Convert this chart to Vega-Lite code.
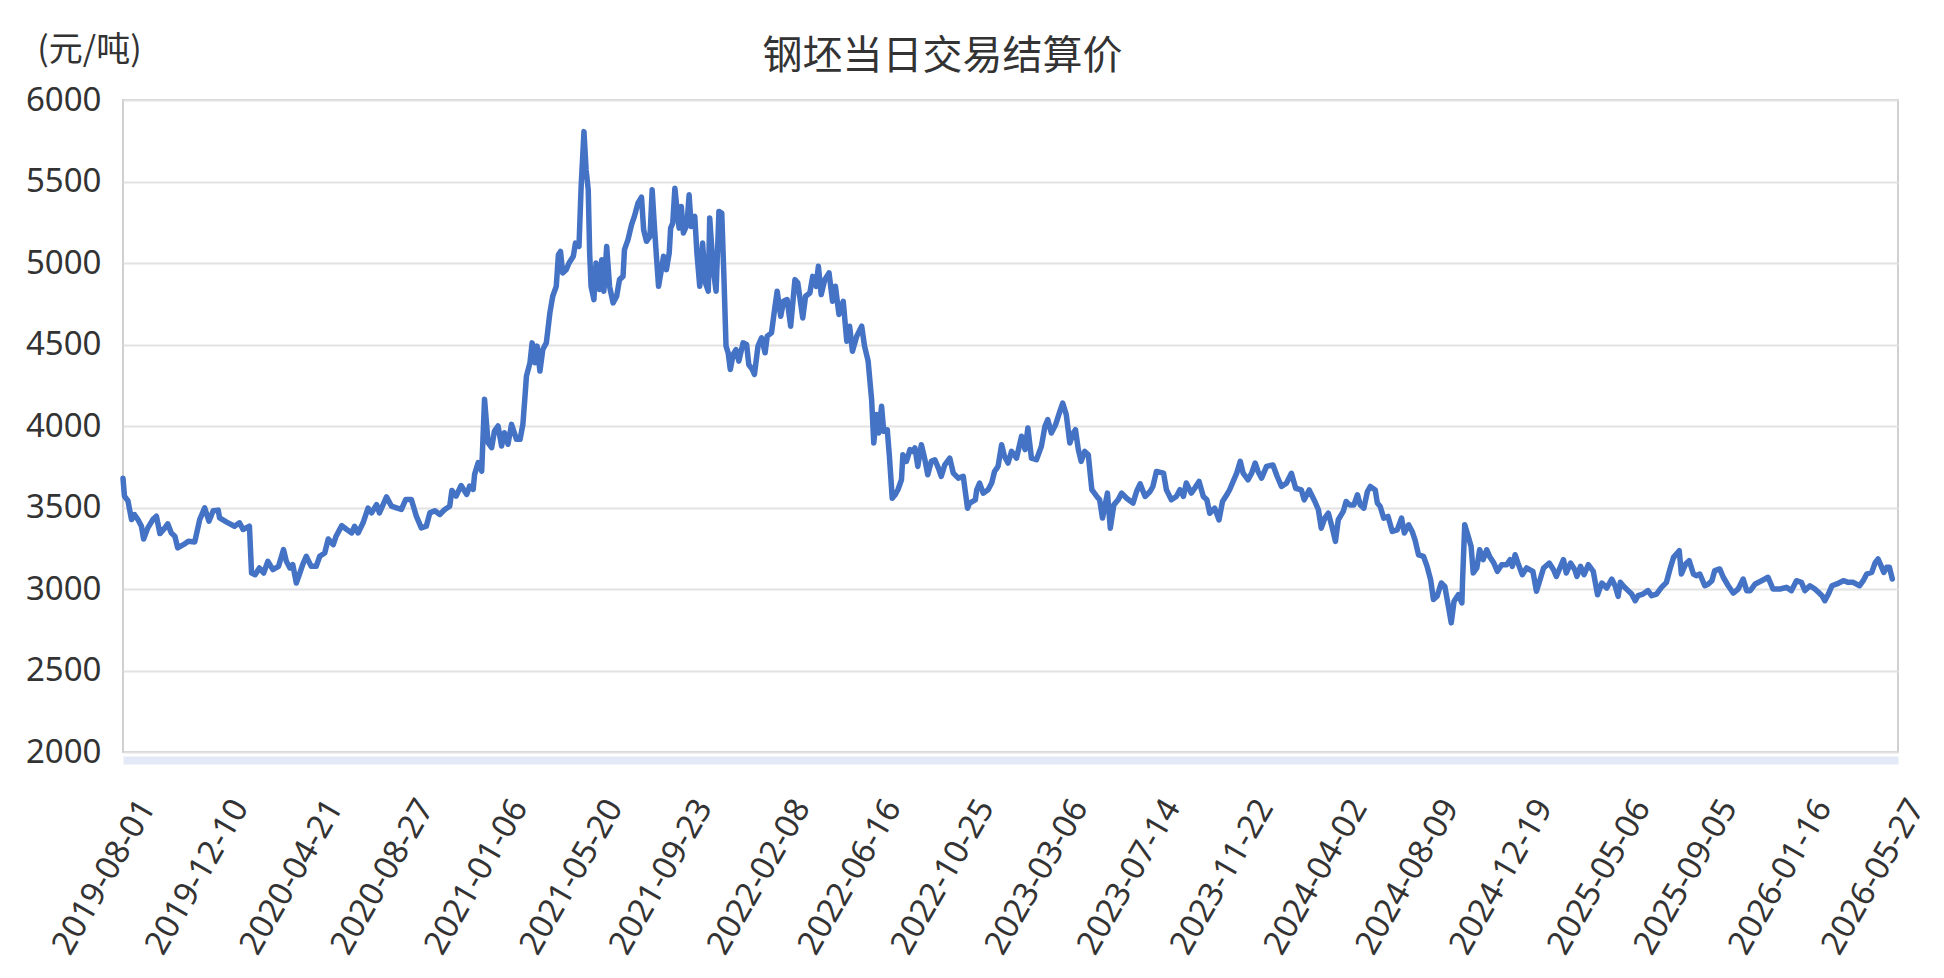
{
  "$schema": "https://vega.github.io/schema/vega-lite/v6.json",
  "width": 1775,
  "height": 652,
  "autosize": {"type": "none"},
  "padding": {"left": 123, "top": 100, "right": 46, "bottom": 226},
  "background": "white",
  "title": {
    "text": "钢坯当日交易结算价",
    "font": "Noto Sans CJK SC",
    "fontSize": 40,
    "fontWeight": "normal",
    "color": "#333333",
    "anchor": "middle",
    "dx": -68,
    "dy": 70,
    "offset": 26
  },
  "data": {
    "values": [
      {"date": "2019-08-01", "price": 3680}, {"date": "2019-08-03", "price": 3570}, {"date": "2019-08-08", "price": 3540},
      {"date": "2019-08-13", "price": 3426}, {"date": "2019-08-17", "price": 3457}, {"date": "2019-08-22", "price": 3426},
      {"date": "2019-08-27", "price": 3385}, {"date": "2019-08-30", "price": 3307}, {"date": "2019-09-05", "price": 3375},
      {"date": "2019-09-12", "price": 3426}, {"date": "2019-09-17", "price": 3447}, {"date": "2019-09-22", "price": 3340},
      {"date": "2019-09-29", "price": 3375}, {"date": "2019-10-03", "price": 3400}, {"date": "2019-10-08", "price": 3344},
      {"date": "2019-10-13", "price": 3324}, {"date": "2019-10-17", "price": 3252}, {"date": "2019-10-25", "price": 3272},
      {"date": "2019-11-01", "price": 3293}, {"date": "2019-11-10", "price": 3289}, {"date": "2019-11-17", "price": 3426},
      {"date": "2019-11-24", "price": 3498}, {"date": "2019-11-30", "price": 3416}, {"date": "2019-12-06", "price": 3480},
      {"date": "2019-12-13", "price": 3484}, {"date": "2019-12-15", "price": 3436}, {"date": "2019-12-25", "price": 3410},
      {"date": "2020-01-05", "price": 3385}, {"date": "2020-01-12", "price": 3406}, {"date": "2020-01-17", "price": 3365},
      {"date": "2020-01-26", "price": 3385}, {"date": "2020-01-29", "price": 3098}, {"date": "2020-02-03", "price": 3088},
      {"date": "2020-02-09", "price": 3129}, {"date": "2020-02-15", "price": 3098}, {"date": "2020-02-21", "price": 3170},
      {"date": "2020-02-28", "price": 3119}, {"date": "2020-03-07", "price": 3139}, {"date": "2020-03-14", "price": 3242},
      {"date": "2020-03-18", "price": 3170}, {"date": "2020-03-23", "price": 3129}, {"date": "2020-03-27", "price": 3150},
      {"date": "2020-04-01", "price": 3037}, {"date": "2020-04-06", "price": 3098}, {"date": "2020-04-10", "price": 3150},
      {"date": "2020-04-15", "price": 3201}, {"date": "2020-04-22", "price": 3139}, {"date": "2020-04-29", "price": 3139},
      {"date": "2020-05-04", "price": 3201}, {"date": "2020-05-11", "price": 3221}, {"date": "2020-05-16", "price": 3307},
      {"date": "2020-05-23", "price": 3272}, {"date": "2020-05-27", "price": 3324}, {"date": "2020-06-04", "price": 3389},
      {"date": "2020-06-11", "price": 3365}, {"date": "2020-06-18", "price": 3344}, {"date": "2020-06-22", "price": 3385},
      {"date": "2020-06-27", "price": 3344}, {"date": "2020-07-04", "price": 3406}, {"date": "2020-07-11", "price": 3496},
      {"date": "2020-07-16", "price": 3467}, {"date": "2020-07-23", "price": 3518}, {"date": "2020-07-27", "price": 3467},
      {"date": "2020-08-06", "price": 3565}, {"date": "2020-08-13", "price": 3508}, {"date": "2020-08-20", "price": 3498},
      {"date": "2020-08-27", "price": 3488}, {"date": "2020-09-02", "price": 3549}, {"date": "2020-09-10", "price": 3549},
      {"date": "2020-09-17", "price": 3447}, {"date": "2020-09-24", "price": 3375}, {"date": "2020-10-01", "price": 3385},
      {"date": "2020-10-06", "price": 3467}, {"date": "2020-10-13", "price": 3480}, {"date": "2020-10-20", "price": 3457},
      {"date": "2020-10-27", "price": 3488}, {"date": "2020-11-03", "price": 3508}, {"date": "2020-11-06", "price": 3604},
      {"date": "2020-11-12", "price": 3570}, {"date": "2020-11-19", "price": 3635}, {"date": "2020-11-27", "price": 3580},
      {"date": "2020-12-01", "price": 3631}, {"date": "2020-12-06", "price": 3611}, {"date": "2020-12-08", "price": 3703},
      {"date": "2020-12-13", "price": 3775}, {"date": "2020-12-18", "price": 3723}, {"date": "2020-12-22", "price": 4164},
      {"date": "2020-12-27", "price": 3898}, {"date": "2021-01-01", "price": 3867}, {"date": "2021-01-05", "price": 3969},
      {"date": "2021-01-10", "price": 4000}, {"date": "2021-01-15", "price": 3877}, {"date": "2021-01-19", "price": 3959},
      {"date": "2021-01-24", "price": 3888}, {"date": "2021-01-29", "price": 4010}, {"date": "2021-02-05", "price": 3918},
      {"date": "2021-02-10", "price": 3918}, {"date": "2021-02-14", "price": 4010}, {"date": "2021-02-17", "price": 4184},
      {"date": "2021-02-19", "price": 4306}, {"date": "2021-02-24", "price": 4388}, {"date": "2021-02-27", "price": 4510},
      {"date": "2021-03-03", "price": 4388}, {"date": "2021-03-06", "price": 4490}, {"date": "2021-03-10", "price": 4337},
      {"date": "2021-03-14", "price": 4469}, {"date": "2021-03-19", "price": 4510}, {"date": "2021-03-21", "price": 4582},
      {"date": "2021-03-24", "price": 4694}, {"date": "2021-03-28", "price": 4796}, {"date": "2021-04-02", "price": 4857},
      {"date": "2021-04-05", "price": 5051}, {"date": "2021-04-08", "price": 5071}, {"date": "2021-04-11", "price": 4939},
      {"date": "2021-04-16", "price": 4959}, {"date": "2021-04-20", "price": 5000}, {"date": "2021-04-26", "price": 5041},
      {"date": "2021-04-29", "price": 5122}, {"date": "2021-05-04", "price": 5102}, {"date": "2021-05-07", "price": 5469},
      {"date": "2021-05-11", "price": 5806}, {"date": "2021-05-14", "price": 5571}, {"date": "2021-05-17", "price": 5449},
      {"date": "2021-05-19", "price": 5061}, {"date": "2021-05-21", "price": 4857}, {"date": "2021-05-25", "price": 4775},
      {"date": "2021-05-28", "price": 5000}, {"date": "2021-06-02", "price": 4837}, {"date": "2021-06-05", "price": 5020},
      {"date": "2021-06-08", "price": 4827}, {"date": "2021-06-12", "price": 5102}, {"date": "2021-06-16", "price": 4857},
      {"date": "2021-06-21", "price": 4755}, {"date": "2021-06-26", "price": 4796}, {"date": "2021-06-30", "price": 4898},
      {"date": "2021-07-05", "price": 4918}, {"date": "2021-07-07", "price": 5082}, {"date": "2021-07-12", "price": 5143},
      {"date": "2021-07-17", "price": 5235}, {"date": "2021-07-21", "price": 5286}, {"date": "2021-07-26", "price": 5367},
      {"date": "2021-07-31", "price": 5404}, {"date": "2021-08-03", "price": 5204}, {"date": "2021-08-07", "price": 5133},
      {"date": "2021-08-12", "price": 5163}, {"date": "2021-08-15", "price": 5449}, {"date": "2021-08-18", "price": 5235},
      {"date": "2021-08-21", "price": 5041}, {"date": "2021-08-24", "price": 4857}, {"date": "2021-08-28", "price": 4959},
      {"date": "2021-08-31", "price": 5041}, {"date": "2021-09-04", "price": 4959}, {"date": "2021-09-08", "price": 5061},
      {"date": "2021-09-10", "price": 5214}, {"date": "2021-09-13", "price": 5245}, {"date": "2021-09-16", "price": 5459},
      {"date": "2021-09-19", "price": 5327}, {"date": "2021-09-22", "price": 5214}, {"date": "2021-09-25", "price": 5347},
      {"date": "2021-09-28", "price": 5184}, {"date": "2021-10-03", "price": 5235}, {"date": "2021-10-06", "price": 5418},
      {"date": "2021-10-09", "price": 5224}, {"date": "2021-10-14", "price": 5286}, {"date": "2021-10-17", "price": 5061},
      {"date": "2021-10-21", "price": 4857}, {"date": "2021-10-25", "price": 5122}, {"date": "2021-10-29", "price": 4878},
      {"date": "2021-11-02", "price": 4827}, {"date": "2021-11-04", "price": 5276}, {"date": "2021-11-09", "price": 4959},
      {"date": "2021-11-13", "price": 4827}, {"date": "2021-11-17", "price": 5316}, {"date": "2021-11-21", "price": 5306},
      {"date": "2021-11-24", "price": 4918}, {"date": "2021-11-27", "price": 4490}, {"date": "2021-11-30", "price": 4449},
      {"date": "2021-12-03", "price": 4347}, {"date": "2021-12-07", "price": 4439}, {"date": "2021-12-11", "price": 4469},
      {"date": "2021-12-15", "price": 4398}, {"date": "2021-12-21", "price": 4510}, {"date": "2021-12-26", "price": 4500},
      {"date": "2021-12-29", "price": 4377}, {"date": "2022-01-03", "price": 4347}, {"date": "2022-01-06", "price": 4316},
      {"date": "2022-01-11", "price": 4490}, {"date": "2022-01-16", "price": 4541}, {"date": "2022-01-21", "price": 4449},
      {"date": "2022-01-24", "price": 4551}, {"date": "2022-01-30", "price": 4571}, {"date": "2022-02-04", "price": 4735},
      {"date": "2022-02-07", "price": 4827}, {"date": "2022-02-12", "price": 4673}, {"date": "2022-02-16", "price": 4765},
      {"date": "2022-02-21", "price": 4776}, {"date": "2022-02-26", "price": 4612}, {"date": "2022-03-04", "price": 4898},
      {"date": "2022-03-08", "price": 4878}, {"date": "2022-03-15", "price": 4663}, {"date": "2022-03-19", "price": 4796},
      {"date": "2022-03-25", "price": 4816}, {"date": "2022-03-29", "price": 4918}, {"date": "2022-04-03", "price": 4857},
      {"date": "2022-04-06", "price": 4980}, {"date": "2022-04-10", "price": 4806}, {"date": "2022-04-15", "price": 4898},
      {"date": "2022-04-21", "price": 4939}, {"date": "2022-04-26", "price": 4765}, {"date": "2022-04-30", "price": 4857},
      {"date": "2022-05-05", "price": 4684}, {"date": "2022-05-11", "price": 4765}, {"date": "2022-05-16", "price": 4520},
      {"date": "2022-05-20", "price": 4612}, {"date": "2022-05-24", "price": 4459}, {"date": "2022-05-30", "price": 4551},
      {"date": "2022-06-06", "price": 4612}, {"date": "2022-06-10", "price": 4490}, {"date": "2022-06-15", "price": 4400},
      {"date": "2022-06-20", "price": 4160}, {"date": "2022-06-23", "price": 3896}, {"date": "2022-06-27", "price": 4070},
      {"date": "2022-06-30", "price": 3957}, {"date": "2022-07-04", "price": 4121}, {"date": "2022-07-07", "price": 3967},
      {"date": "2022-07-12", "price": 3977}, {"date": "2022-07-15", "price": 3814}, {"date": "2022-07-19", "price": 3557},
      {"date": "2022-07-23", "price": 3578}, {"date": "2022-07-27", "price": 3609}, {"date": "2022-08-01", "price": 3670},
      {"date": "2022-08-03", "price": 3824}, {"date": "2022-08-08", "price": 3783}, {"date": "2022-08-13", "price": 3855},
      {"date": "2022-08-17", "price": 3844}, {"date": "2022-08-20", "price": 3865}, {"date": "2022-08-24", "price": 3752},
      {"date": "2022-08-29", "price": 3885}, {"date": "2022-09-03", "price": 3793}, {"date": "2022-09-07", "price": 3701},
      {"date": "2022-09-12", "price": 3783}, {"date": "2022-09-17", "price": 3793}, {"date": "2022-09-22", "price": 3742},
      {"date": "2022-09-26", "price": 3691}, {"date": "2022-10-01", "price": 3762}, {"date": "2022-10-08", "price": 3803},
      {"date": "2022-10-13", "price": 3711}, {"date": "2022-10-20", "price": 3680}, {"date": "2022-10-27", "price": 3691},
      {"date": "2022-11-02", "price": 3496}, {"date": "2022-11-05", "price": 3527}, {"date": "2022-11-13", "price": 3547},
      {"date": "2022-11-15", "price": 3609}, {"date": "2022-11-19", "price": 3650}, {"date": "2022-11-24", "price": 3588},
      {"date": "2022-12-01", "price": 3609}, {"date": "2022-12-06", "price": 3650}, {"date": "2022-12-10", "price": 3721},
      {"date": "2022-12-15", "price": 3752}, {"date": "2022-12-20", "price": 3885}, {"date": "2022-12-24", "price": 3814},
      {"date": "2022-12-29", "price": 3773}, {"date": "2023-01-03", "price": 3844}, {"date": "2023-01-10", "price": 3803},
      {"date": "2023-01-17", "price": 3937}, {"date": "2023-01-22", "price": 3855}, {"date": "2023-01-26", "price": 3988},
      {"date": "2023-01-31", "price": 3803}, {"date": "2023-02-07", "price": 3793}, {"date": "2023-02-14", "price": 3875},
      {"date": "2023-02-19", "price": 3998}, {"date": "2023-02-23", "price": 4039}, {"date": "2023-02-28", "price": 3957},
      {"date": "2023-03-06", "price": 4008}, {"date": "2023-03-12", "price": 4090}, {"date": "2023-03-16", "price": 4141},
      {"date": "2023-03-21", "price": 4070}, {"date": "2023-03-26", "price": 3896}, {"date": "2023-03-31", "price": 3957},
      {"date": "2023-04-03", "price": 3977}, {"date": "2023-04-07", "price": 3855}, {"date": "2023-04-11", "price": 3783},
      {"date": "2023-04-16", "price": 3844}, {"date": "2023-04-21", "price": 3824}, {"date": "2023-04-26", "price": 3609},
      {"date": "2023-05-03", "price": 3568}, {"date": "2023-05-07", "price": 3547}, {"date": "2023-05-11", "price": 3435},
      {"date": "2023-05-18", "price": 3588}, {"date": "2023-05-22", "price": 3373}, {"date": "2023-05-27", "price": 3516},
      {"date": "2023-06-02", "price": 3547}, {"date": "2023-06-07", "price": 3588}, {"date": "2023-06-14", "price": 3557},
      {"date": "2023-06-23", "price": 3527}, {"date": "2023-06-28", "price": 3598}, {"date": "2023-07-03", "price": 3645},
      {"date": "2023-07-10", "price": 3568}, {"date": "2023-07-17", "price": 3598}, {"date": "2023-07-21", "price": 3629},
      {"date": "2023-07-26", "price": 3721}, {"date": "2023-08-05", "price": 3711}, {"date": "2023-08-09", "price": 3609},
      {"date": "2023-08-16", "price": 3547}, {"date": "2023-08-23", "price": 3568}, {"date": "2023-08-28", "price": 3609},
      {"date": "2023-09-02", "price": 3568}, {"date": "2023-09-06", "price": 3650}, {"date": "2023-09-13", "price": 3588},
      {"date": "2023-09-18", "price": 3619}, {"date": "2023-09-24", "price": 3660}, {"date": "2023-09-30", "price": 3568},
      {"date": "2023-10-05", "price": 3547}, {"date": "2023-10-09", "price": 3465}, {"date": "2023-10-16", "price": 3496},
      {"date": "2023-10-22", "price": 3424}, {"date": "2023-10-27", "price": 3537}, {"date": "2023-11-02", "price": 3578},
      {"date": "2023-11-06", "price": 3609}, {"date": "2023-11-11", "price": 3660}, {"date": "2023-11-16", "price": 3711},
      {"date": "2023-11-21", "price": 3783}, {"date": "2023-11-25", "price": 3711}, {"date": "2023-12-02", "price": 3670},
      {"date": "2023-12-07", "price": 3711}, {"date": "2023-12-12", "price": 3773}, {"date": "2023-12-16", "price": 3721},
      {"date": "2023-12-21", "price": 3680}, {"date": "2023-12-28", "price": 3752}, {"date": "2024-01-06", "price": 3761},
      {"date": "2024-01-12", "price": 3690}, {"date": "2024-01-18", "price": 3629}, {"date": "2024-01-25", "price": 3649},
      {"date": "2024-02-01", "price": 3710}, {"date": "2024-02-07", "price": 3618}, {"date": "2024-02-15", "price": 3608},
      {"date": "2024-02-19", "price": 3547}, {"date": "2024-02-26", "price": 3608}, {"date": "2024-03-05", "price": 3537},
      {"date": "2024-03-10", "price": 3486}, {"date": "2024-03-14", "price": 3373}, {"date": "2024-03-19", "price": 3435},
      {"date": "2024-03-24", "price": 3465}, {"date": "2024-03-29", "price": 3384}, {"date": "2024-04-03", "price": 3292},
      {"date": "2024-04-07", "price": 3425}, {"date": "2024-04-14", "price": 3476}, {"date": "2024-04-18", "price": 3537},
      {"date": "2024-04-23", "price": 3516}, {"date": "2024-04-29", "price": 3516}, {"date": "2024-05-04", "price": 3578},
      {"date": "2024-05-08", "price": 3516}, {"date": "2024-05-13", "price": 3496}, {"date": "2024-05-18", "price": 3598},
      {"date": "2024-05-22", "price": 3629}, {"date": "2024-05-29", "price": 3608}, {"date": "2024-06-01", "price": 3527},
      {"date": "2024-06-05", "price": 3506}, {"date": "2024-06-10", "price": 3435}, {"date": "2024-06-16", "price": 3445},
      {"date": "2024-06-22", "price": 3353}, {"date": "2024-06-29", "price": 3363}, {"date": "2024-07-05", "price": 3435},
      {"date": "2024-07-09", "price": 3343}, {"date": "2024-07-15", "price": 3394}, {"date": "2024-07-20", "price": 3353},
      {"date": "2024-07-24", "price": 3302}, {"date": "2024-07-29", "price": 3210}, {"date": "2024-08-05", "price": 3200},
      {"date": "2024-08-10", "price": 3139}, {"date": "2024-08-15", "price": 3057}, {"date": "2024-08-19", "price": 2935},
      {"date": "2024-08-24", "price": 2955}, {"date": "2024-08-30", "price": 3037}, {"date": "2024-09-04", "price": 3016},
      {"date": "2024-09-09", "price": 2894}, {"date": "2024-09-13", "price": 2792}, {"date": "2024-09-17", "price": 2925},
      {"date": "2024-09-23", "price": 2965}, {"date": "2024-09-28", "price": 2914}, {"date": "2024-09-29", "price": 3057},
      {"date": "2024-10-02", "price": 3394}, {"date": "2024-10-07", "price": 3322}, {"date": "2024-10-11", "price": 3261},
      {"date": "2024-10-14", "price": 3098}, {"date": "2024-10-19", "price": 3129}, {"date": "2024-10-23", "price": 3241},
      {"date": "2024-10-28", "price": 3180}, {"date": "2024-11-02", "price": 3241}, {"date": "2024-11-06", "price": 3200},
      {"date": "2024-11-12", "price": 3159}, {"date": "2024-11-17", "price": 3108}, {"date": "2024-11-23", "price": 3149},
      {"date": "2024-11-30", "price": 3149}, {"date": "2024-12-05", "price": 3180}, {"date": "2024-12-08", "price": 3139},
      {"date": "2024-12-12", "price": 3210}, {"date": "2024-12-16", "price": 3159}, {"date": "2024-12-22", "price": 3088},
      {"date": "2024-12-28", "price": 3129}, {"date": "2025-01-06", "price": 3108}, {"date": "2025-01-11", "price": 2986},
      {"date": "2025-01-16", "price": 3057}, {"date": "2025-01-21", "price": 3129}, {"date": "2025-01-29", "price": 3159},
      {"date": "2025-02-04", "price": 3118}, {"date": "2025-02-08", "price": 3077}, {"date": "2025-02-13", "price": 3129},
      {"date": "2025-02-18", "price": 3180}, {"date": "2025-02-22", "price": 3098}, {"date": "2025-02-28", "price": 3159},
      {"date": "2025-03-06", "price": 3118}, {"date": "2025-03-09", "price": 3077}, {"date": "2025-03-14", "price": 3139},
      {"date": "2025-03-19", "price": 3088}, {"date": "2025-03-25", "price": 3149}, {"date": "2025-04-01", "price": 3108},
      {"date": "2025-04-07", "price": 2965}, {"date": "2025-04-13", "price": 3037}, {"date": "2025-04-20", "price": 3006},
      {"date": "2025-04-27", "price": 3061}, {"date": "2025-05-02", "price": 3016}, {"date": "2025-05-06", "price": 2955},
      {"date": "2025-05-09", "price": 3041}, {"date": "2025-05-13", "price": 3020}, {"date": "2025-05-20", "price": 2990},
      {"date": "2025-05-25", "price": 2969}, {"date": "2025-05-30", "price": 2928}, {"date": "2025-06-03", "price": 2959},
      {"date": "2025-06-10", "price": 2969}, {"date": "2025-06-17", "price": 2990}, {"date": "2025-06-22", "price": 2959},
      {"date": "2025-06-29", "price": 2969}, {"date": "2025-07-06", "price": 3010}, {"date": "2025-07-13", "price": 3041},
      {"date": "2025-07-18", "price": 3123}, {"date": "2025-07-23", "price": 3194}, {"date": "2025-07-27", "price": 3215},
      {"date": "2025-07-31", "price": 3235}, {"date": "2025-08-03", "price": 3092}, {"date": "2025-08-09", "price": 3153},
      {"date": "2025-08-14", "price": 3174}, {"date": "2025-08-20", "price": 3092}, {"date": "2025-08-24", "price": 3082},
      {"date": "2025-08-29", "price": 3092}, {"date": "2025-09-05", "price": 3020}, {"date": "2025-09-10", "price": 3031},
      {"date": "2025-09-15", "price": 3051}, {"date": "2025-09-19", "price": 3113}, {"date": "2025-09-26", "price": 3123},
      {"date": "2025-10-01", "price": 3072}, {"date": "2025-10-08", "price": 3020}, {"date": "2025-10-15", "price": 2975},
      {"date": "2025-10-22", "price": 3000}, {"date": "2025-10-29", "price": 3061}, {"date": "2025-11-03", "price": 2990},
      {"date": "2025-11-08", "price": 2990}, {"date": "2025-11-15", "price": 3031}, {"date": "2025-11-24", "price": 3051},
      {"date": "2025-12-03", "price": 3072}, {"date": "2025-12-10", "price": 3000}, {"date": "2025-12-20", "price": 3000},
      {"date": "2025-12-29", "price": 3010}, {"date": "2026-01-05", "price": 2990}, {"date": "2026-01-12", "price": 3051},
      {"date": "2026-01-19", "price": 3041}, {"date": "2026-01-24", "price": 2990}, {"date": "2026-01-31", "price": 3020},
      {"date": "2026-02-07", "price": 3000}, {"date": "2026-02-12", "price": 2980}, {"date": "2026-02-17", "price": 2959},
      {"date": "2026-02-21", "price": 2928}, {"date": "2026-02-26", "price": 2969}, {"date": "2026-03-03", "price": 3020},
      {"date": "2026-03-10", "price": 3031}, {"date": "2026-03-19", "price": 3051}, {"date": "2026-03-26", "price": 3041},
      {"date": "2026-04-02", "price": 3041}, {"date": "2026-04-11", "price": 3020}, {"date": "2026-04-16", "price": 3051},
      {"date": "2026-04-21", "price": 3092}, {"date": "2026-04-28", "price": 3102}, {"date": "2026-05-03", "price": 3163},
      {"date": "2026-05-07", "price": 3184}, {"date": "2026-05-11", "price": 3143}, {"date": "2026-05-15", "price": 3102},
      {"date": "2026-05-19", "price": 3133}, {"date": "2026-05-23", "price": 3133}, {"date": "2026-05-27", "price": 3061}
    ]
  },
  "mark": {
    "type": "line",
    "color": "#4472C4",
    "strokeWidth": 5.5,
    "strokeJoin": "round",
    "strokeCap": "round"
  },
  "encoding": {
    "x": {
      "field": "date",
      "type": "temporal",
      "title": null,
      "scale": {
        "type": "utc",
        "domain": [
          {"year": 2019, "month": 8, "date": 1, "utc": true},
          {"year": 2026, "month": 6, "date": 4, "utc": true}
        ]
      },
      "axis": {
        "values": [
          {"year": 2019, "month": 8, "date": 1, "utc": true},
          {"year": 2019, "month": 12, "date": 10, "utc": true},
          {"year": 2020, "month": 4, "date": 21, "utc": true},
          {"year": 2020, "month": 8, "date": 27, "utc": true},
          {"year": 2021, "month": 1, "date": 6, "utc": true},
          {"year": 2021, "month": 5, "date": 20, "utc": true},
          {"year": 2021, "month": 9, "date": 23, "utc": true},
          {"year": 2022, "month": 2, "date": 8, "utc": true},
          {"year": 2022, "month": 6, "date": 16, "utc": true},
          {"year": 2022, "month": 10, "date": 25, "utc": true},
          {"year": 2023, "month": 3, "date": 6, "utc": true},
          {"year": 2023, "month": 7, "date": 14, "utc": true},
          {"year": 2023, "month": 11, "date": 22, "utc": true},
          {"year": 2024, "month": 4, "date": 2, "utc": true},
          {"year": 2024, "month": 8, "date": 9, "utc": true},
          {"year": 2024, "month": 12, "date": 19, "utc": true},
          {"year": 2025, "month": 5, "date": 6, "utc": true},
          {"year": 2025, "month": 9, "date": 5, "utc": true},
          {"year": 2026, "month": 1, "date": 16, "utc": true},
          {"year": 2026, "month": 5, "date": 27, "utc": true}
        ],
        "format": "%Y-%m-%d",
        "labelAngle": -60,
        "labelAlign": "right",
        "labelBaseline": "middle",
        "labelPadding": 42,
        "labelOffset": 24,
        "labelFontSize": 33,
        "labelFont": "Noto Sans",
        "labelColor": "#333333",
        "labelOverlap": false,
        "labelFlush": false,
        "labelBound": false,
        "grid": false,
        "ticks": false,
        "domain": true,
        "domainColor": "#e3e9f6",
        "domainWidth": 8,
        "domainCap": "butt",
        "offset": 8
      }
    },
    "y": {
      "field": "price",
      "type": "quantitative",
      "scale": {"domain": [2000, 6000], "nice": false, "zero": false},
      "axis": {
        "values": [2000, 2500, 3000, 3500, 4000, 4500, 5000, 5500, 6000],
        "format": "d",
        "title": "(元/吨)",
        "titleAngle": 0,
        "titleX": -34,
        "titleY": -50,
        "titleAlign": "center",
        "titleBaseline": "middle",
        "titleFont": "Noto Sans CJK SC",
        "titleFontSize": 34,
        "titleFontWeight": "normal",
        "titleColor": "#333333",
        "labelFontSize": 33,
        "labelFont": "Noto Sans",
        "labelColor": "#333333",
        "labelPadding": 22,
        "labelFlush": false,
        "labelOverlap": false,
        "ticks": false,
        "domain": false,
        "grid": true,
        "gridColor": "#e2e2e2",
        "gridWidth": 2
      }
    }
  },
  "config": {
    "view": {"stroke": "#d0d0d0", "strokeWidth": 2, "fill": "white"}
  }
}
